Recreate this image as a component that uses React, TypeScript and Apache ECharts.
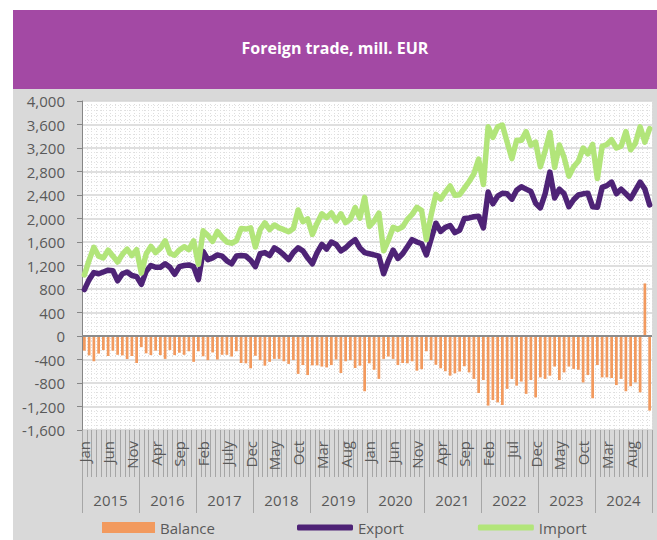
import React, { useEffect, useRef } from "react";
import * as echarts from "echarts";

const monthNames = ["Jan", "Feb", "Mar", "Apr", "May", "Jun", "Jul", "Aug", "Sep", "Oct", "Nov", "Dec"];
const years = ["2015", "2016", "2017", "2018", "2019", "2020", "2021", "2022", "2023", "2024"];
const tickLabels = [
  "Jan", "Jun", "Nov", "Apr", "Sep", "Feb", "July", "Dec", "May", "Oct", "Mar", "Aug",
  "Jan", "Jun", "Nov", "Apr", "Sep", "Feb", "Jul", "Dec", "May", "Oct", "Mar", "Aug",
];
const yTicks = { min: -1600, max: 4000, interval: 400 };

const balance = [
  -250, -330, -430, -300, -240, -340, -250, -320, -330, -390, -340, -460,
  -190, -295, -325, -250, -325, -390, -240, -325, -285, -320, -260, -440,
  -260, -345, -410, -280, -400, -320, -320, -350, -260, -460, -465, -550,
  -335, -410, -505, -440, -390, -390, -430, -475, -410, -645, -495, -665,
  -500, -500, -520, -535, -495, -400, -630, -430, -410, -545, -505, -940,
  -465, -575, -730, -390, -350, -390, -495, -460, -465, -430, -590, -565,
  -260, -410, -490, -550, -600, -675, -635, -605, -515, -620, -730, -970,
  -750, -1185, -1090, -1130, -1175, -900, -730, -845, -775, -985, -750, -1045,
  -705, -730, -675, -520, -750, -620, -520, -560, -575, -790, -665, -1060,
  -495, -705, -705, -715, -835, -730, -940, -855, -790, -960, 895, -1270,
];

const exportValues = [
  790, 960, 1080, 1060, 1090, 1120, 1110, 940, 1060, 1090, 1030, 1010,
  880, 1100, 1200, 1170, 1170, 1230, 1170, 1050, 1180, 1200, 1210, 1180,
  960, 1440, 1300, 1330, 1380, 1360, 1280, 1230, 1360, 1370, 1360, 1290,
  1180, 1400, 1420, 1370, 1500, 1450, 1380, 1300, 1420, 1500, 1450, 1330,
  1230, 1420, 1560, 1480, 1600, 1560, 1450, 1500, 1580, 1640, 1500, 1420,
  1400, 1380, 1360, 1060, 1280, 1460, 1320, 1400, 1520, 1640, 1600, 1570,
  1380, 1650, 1920, 1780, 1850, 1880, 1760, 1800, 2000, 2010, 2030, 2040,
  1840, 2450, 2250, 2380, 2430, 2420, 2330, 2480, 2540, 2500, 2460, 2260,
  2180, 2420, 2790, 2350, 2500, 2420, 2200, 2320, 2400, 2420, 2430, 2200,
  2190, 2530, 2560, 2620, 2420, 2500, 2420, 2340, 2480, 2620, 2500, 2230,
];

const importValues = [
  1040, 1290, 1510, 1360, 1330, 1460, 1360, 1260, 1390, 1480, 1370, 1470,
  1070, 1395, 1525, 1420, 1495, 1620, 1410, 1375, 1465, 1520, 1470, 1620,
  1220, 1790, 1710, 1610, 1780, 1680, 1600, 1580, 1620, 1830, 1820, 1840,
  1515, 1810, 1925, 1810, 1890, 1840, 1810, 1775, 1830, 2145, 1945, 1995,
  1730, 1920, 2080, 2015, 2095, 1960, 2080, 1930, 1990, 2185, 2005, 2360,
  1865, 1955, 2090, 1450, 1630, 1850, 1815, 1860, 1985, 2070, 2190, 2135,
  1640, 2060, 2410, 2330, 2450, 2555, 2395, 2405, 2515, 2630, 2760, 3010,
  2580, 3560, 3380, 3560, 3590, 3300, 3020, 3330, 3330, 3480, 3250, 3300,
  2880, 3150, 3465, 2870, 3250, 3040, 2720, 2880, 2975, 3200, 3100, 3260,
  2680, 3230, 3260, 3340, 3200, 3230, 3480, 3170, 3280, 3560, 3300, 3530,
];

const categories = years.flatMap((y) => monthNames.map((m) => `${m} ${y}`));

const FONT = '"Open Sans", "Noto Sans", sans-serif';
const TEXT = "#595959";
const TICK = "#a6a6a6";
const PURPLE = "#4E2376";
const GREEN = "#B2E57A";
const ORANGE = "#F29A5E";

export default function App() {
  const ref = useRef<HTMLDivElement>(null);

  useEffect(() => {
    if (!ref.current) return;
    const chart = echarts.init(ref.current, undefined, { renderer: "svg" });
    chart.setOption({
      animation: false,
      textStyle: { fontFamily: FONT },
      graphic: [
        { type: "rect", z: -10, shape: { x: 13, y: 10, width: 644, height: 79 }, style: { fill: "#A349A4" } },
        { type: "rect", z: -10, shape: { x: 13, y: 89, width: 644, height: 451 }, style: { fill: "#D9D9D9" } },
        {
          type: "text",
          x: 335,
          y: 48,
          style: {
            text: "Foreign trade, mill. EUR",
            fill: "#ffffff",
            font: `bold 16px ${FONT}`,
            textAlign: "center",
            textVerticalAlign: "middle",
          },
        },
      ],
      grid: {
        left: 82,
        right: 5,
        top: 101,
        bottom: 110,
        show: true,
        backgroundColor: "#ffffff",
        borderWidth: 0,
      },
      legend: [
        {
          left: 97,
          top: 515,
          itemWidth: 53,
          itemHeight: 11,
          icon: "rect",
          textStyle: { fontSize: 15, color: TEXT, fontFamily: FONT },
          data: ["Balance"],
        },
        {
          left: 292,
          top: 515,
          itemWidth: 56,
          itemHeight: 6,
          itemGap: 74,
          icon: "roundRect",
          textStyle: { fontSize: 15, color: TEXT, fontFamily: FONT },
          data: ["Export", "Import"],
        },
      ],
      xAxis: [
        {
          type: "category",
          data: categories,
          boundaryGap: true,
          axisLine: { show: false, onZero: false },
          axisTick: { show: true, interval: 0, length: 47, lineStyle: { color: TICK, width: 1 } },
          axisLabel: {
            interval: 4,
            rotate: 90,
            margin: 11,
            fontSize: 15,
            color: TEXT,
            fontFamily: FONT,
            formatter: (_v: string, i: number) => tickLabels[Math.round(i / 5)] ?? "",
          },
          splitLine: {
            show: true,
            interval: 0,
            lineStyle: { color: "#dedede", width: 1, type: [1, 2] },
          },
        },
        {
          type: "category",
          data: years,
          position: "bottom",
          boundaryGap: true,
          axisLine: { show: false, onZero: false },
          axisTick: { show: true, interval: 0, length: 83, lineStyle: { color: TICK, width: 1 } },
          axisLabel: { interval: 0, margin: 62, fontSize: 15, color: TEXT, fontFamily: FONT },
          splitLine: { show: false },
        },
      ],
      yAxis: {
        type: "value",
        min: yTicks.min,
        max: yTicks.max,
        interval: yTicks.interval,
        axisLine: { show: true, lineStyle: { color: "#868686", width: 1 } },
        axisTick: { show: true, length: 5, lineStyle: { color: "#868686" } },
        axisLabel: {
          margin: 17,
          fontSize: 15,
          color: TEXT,
          fontFamily: FONT,
          formatter: (v: number) => v.toLocaleString("en-US"),
        },
        splitLine: { show: true, lineStyle: { color: "#d4d4d4", width: 1.5 } },
        minorTick: { show: false, splitNumber: 5 },
        minorSplitLine: { show: true, lineStyle: { color: "#e2e2e2", width: 1, type: [1, 2] } },
      },
      series: [
        {
          name: "Balance",
          type: "bar",
          data: balance,
          barWidth: "57%",
          itemStyle: { color: ORANGE },
          markLine: {
            silent: true,
            symbol: "none",
            label: { show: false },
            lineStyle: { color: "#8c8c8c", width: 2, type: "solid" },
            data: [{ yAxis: 0 }],
          },
        },
        {
          name: "Export",
          type: "line",
          data: exportValues,
          symbol: "none",
          showSymbol: false,
          lineStyle: { color: PURPLE, width: 5.5, join: "round", cap: "round" },
          itemStyle: { color: PURPLE },
        },
        {
          name: "Import",
          type: "line",
          data: importValues,
          symbol: "none",
          showSymbol: false,
          lineStyle: { color: GREEN, width: 5.5, join: "round", cap: "round" },
          itemStyle: { color: GREEN },
        },
      ],
    });
    return () => chart.dispose();
  }, []);

  return (
    <div
      ref={ref}
      style={{ position: "absolute", left: 0, top: 0, width: 657, height: 540 }}
    />
  );
}
